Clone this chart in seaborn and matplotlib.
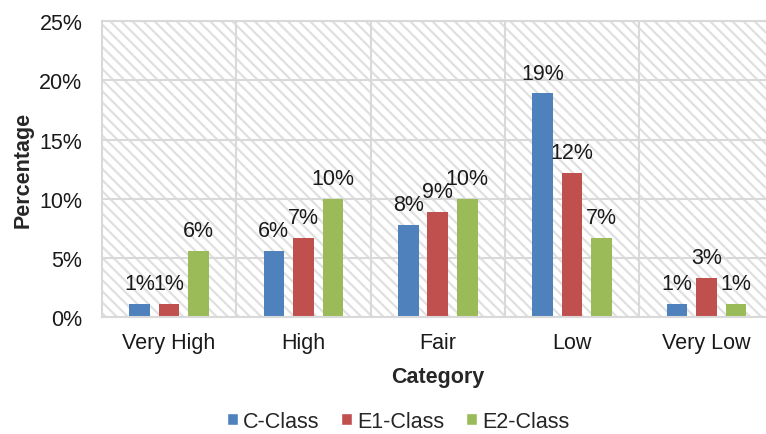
import matplotlib
matplotlib.use("Agg")
import matplotlib.pyplot as plt
from matplotlib.patches import Rectangle
from matplotlib.ticker import FuncFormatter
import seaborn as sns
import pandas as pd

# data (percent)
categories = ["Very High", "High", "Fair", "Low", "Very Low"]
series = ["C-Class", "E1-Class", "E2-Class"]
c_class = [1.1, 5.6, 7.8, 18.9, 1.1]
e1_class = [1.1, 6.7, 8.9, 12.2, 3.3]
e2_class = [5.6, 10.0, 10.0, 6.7, 1.1]
colors = ["#4F81BD", "#C0504D", "#9BBB59"]

df = pd.DataFrame({
    "Category": categories * 3,
    "Class": [s for s in series for _ in categories],
    "Percentage": c_class + e1_class + e2_class,
})

sns.set_style("white")
plt.rcParams["font.family"] = ["Liberation Sans", "DejaVu Sans"]
plt.rcParams["hatch.linewidth"] = 1.6
FS = 15.5
grid_col = "#d9d9d9"

fig = plt.figure(figsize=(7.66, 4.35), dpi=100)
ax = fig.add_axes([0.133, 0.269, 0.877, 0.680])

# hatched plot-area background
ax.add_patch(Rectangle((0, 0), 1, 1, transform=ax.transAxes, facecolor="white",
                       edgecolor="#e0e0e0", hatch="\\\\\\", linewidth=0, zorder=0.1))

sns.barplot(data=df, x="Category", y="Percentage", hue="Class",
            order=categories, hue_order=series, palette=colors, saturation=1,
            width=0.66, gap=0.3, linewidth=0, ax=ax, zorder=2)

for cont in ax.containers:
    ax.bar_label(cont, labels=[f"{v:.0f}%" for v in cont.datavalues],
                 padding=7, fontsize=FS, color="#1a1a1a")

ax.set_xlim(-0.5, 4.5)
ax.set_ylim(0, 25)
ax.set_yticks([0, 5, 10, 15, 20, 25])
ax.yaxis.set_major_formatter(FuncFormatter(lambda v, _: f"{v:.0f}%"))
ax.set_xticks([0.5, 1.5, 2.5, 3.5], minor=True)
ax.grid(axis="y", which="major", color=grid_col, linewidth=1.5, zorder=0.5)
ax.grid(axis="x", which="minor", color=grid_col, linewidth=1.5, zorder=0.5)
ax.tick_params(axis="both", which="both", length=0, labelsize=FS, colors="#1a1a1a")
ax.tick_params(axis="y", pad=14)
ax.tick_params(axis="x", pad=11)
for sp in ax.spines.values():
    sp.set_color(grid_col)
    sp.set_linewidth(1.5)

ax.set_xlabel("Category", fontsize=FS, fontweight="bold", labelpad=9)
ax.set_ylabel("Percentage", fontsize=FS, fontweight="bold", labelpad=4)

ax.get_legend().remove()
handles = [Rectangle((0, 0), 1, 1, facecolor=c) for c in colors]
ax.legend(handles, series, loc="center", bbox_to_anchor=(0.52, 0.029),
          bbox_transform=fig.transFigure, ncol=3, frameon=False, fontsize=FS,
          handlelength=0.5, handleheight=0.5, handletextpad=0.25, columnspacing=1.0,
          borderpad=0.1)

fig.savefig("out.png", dpi=100)
